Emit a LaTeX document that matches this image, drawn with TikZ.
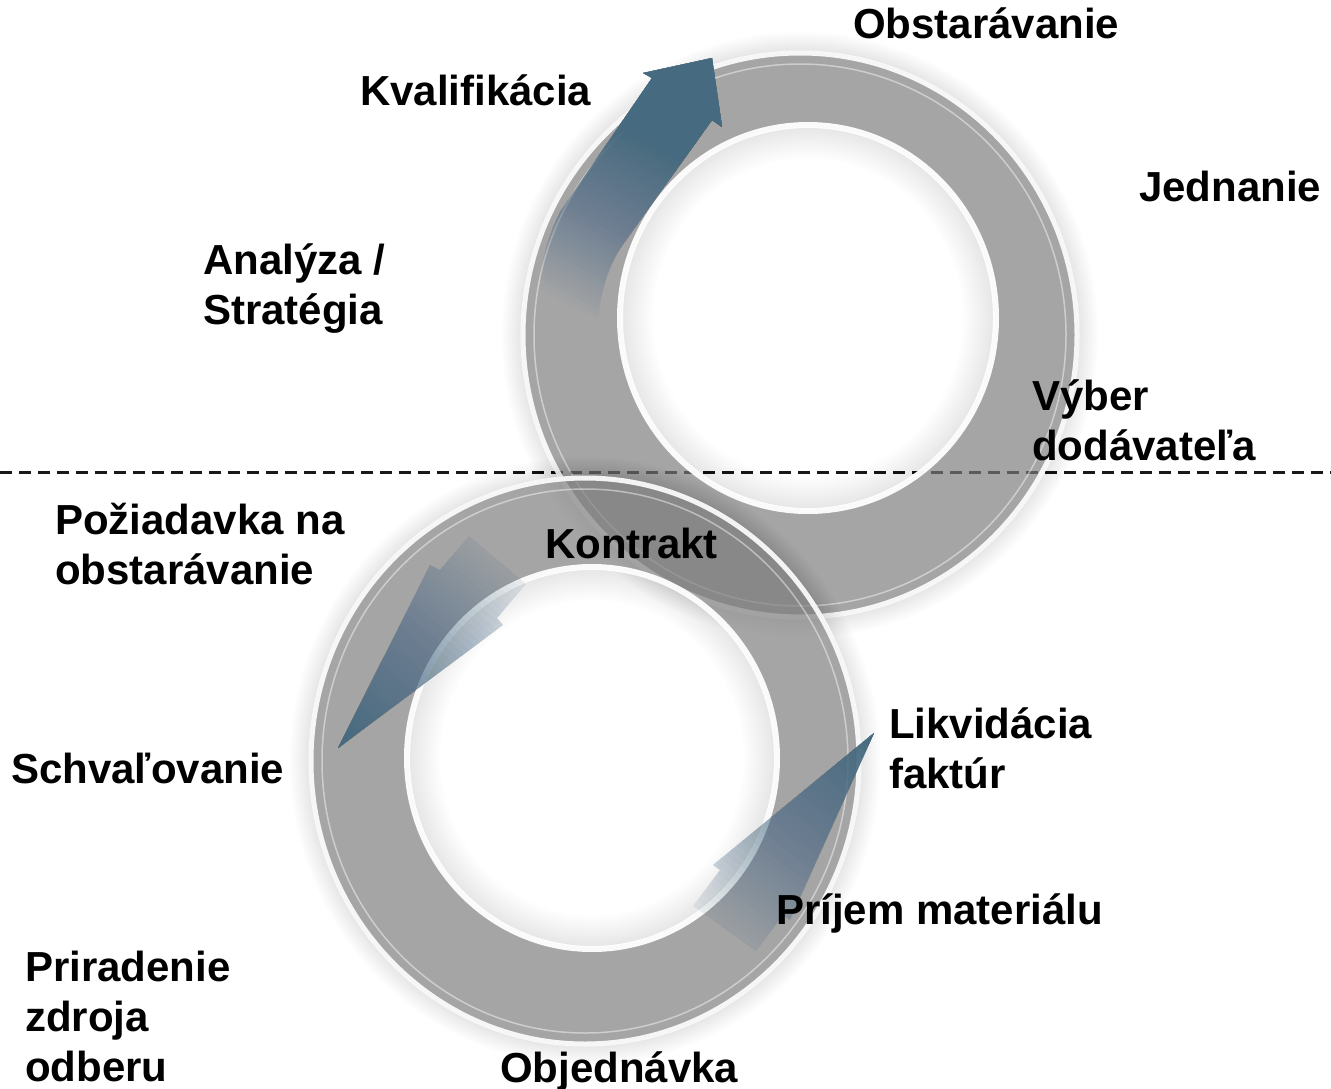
\documentclass[tikz,border=0pt]{standalone}
\usepackage{fontspec}
\setmainfont{Liberation Sans}

\definecolor{ringgray}{gray}{0.482}
\definecolor{slate}{RGB}{70,106,128}
\definecolor{dashgray}{RGB}{25,25,25}

\begin{document}
\begin{tikzpicture}[x=1pt,y=-1pt,
  lbl/.style={anchor=base west, inner sep=0pt, font=\fontsize{42}{50}\selectfont\bfseries, align=left, text=black},
  ringbody/.style={fill=ringgray, fill opacity=0.674, even odd rule},
  halo/.style={fill=black, fill opacity=0.009, even odd rule},
  outerrim/.style={draw=white, draw opacity=0.9, line width=5pt},
  innerline/.style={draw=white, draw opacity=0.45, line width=1.5pt},
  holerim/.style={draw=white, draw opacity=0.95, line width=6pt},
  dashline/.style={draw=dashgray, line width=3pt, dash pattern=on 12pt off 7pt},
  arrowlayer/.style={fill=slate, fill opacity=#1}
]
\path[use as bounding box, fill=white] (0,0) rectangle (1331,1089);

% centres
\coordinate (uc) at (800,335);
\coordinate (uh) at (808,318);
\coordinate (lc) at (585,761);
\coordinate (lh) at (592,758);
% start points of the arrow fades
\coordinate (ua) at (569,305);
\coordinate (la) at (510.4,544.7);
\coordinate (ra) at (712.3,944.4);

% dashed separator
\coordinate (dl) at (0,472);
\coordinate (dr) at (1331,472);
\draw[dashline] (dl) -- (dr);

% ---------- upper ring ----------
\foreach \k in {1,...,12} {
  \fill[halo] (uc) ellipse ({279+1.6*\k} and {284+1.6*\k}) (uc) ellipse (279 and 284);
  \fill[halo] (uh) ellipse (186 and 191) (uh) ellipse ({186-2.6*\k} and {191-2.6*\k});
}
\fill[ringbody] (uc) ellipse (279 and 284) (uh) ellipse (186 and 191);
\draw[outerrim] (uc) ellipse (277 and 282);
\draw[innerline] (uc) ellipse (266 and 271);
\draw[holerim] (uh) ellipse (188 and 193);

% upper arrow (fading built from stacked layers)
\foreach \n in {1,...,40} {
  \pgfmathsetmacro\st{(\n-1)/40*188.4}
  \pgfmathsetmacro\op{1/(41-\n)}
  \begin{scope}
    \clip[shift={(ua)}, rotate=61.1] (\st,-600) rectangle (1200,600);
    \fill[arrowlayer=\op] (712,58) -- (722,127) -- (712,120) -- (622,246)
      .. controls (608,266) and (601,292) .. (598,318) -- (540,292)
      .. controls (540,262) and (548,236) .. (560,212) -- (652,78) -- (643,73) -- cycle;
  \end{scope}
}

% ---------- lower ring ----------
\foreach \k in {1,...,12} {
  \fill[halo] (lc) ellipse ({276+1.6*\k} and {285+1.6*\k}) (lc) ellipse (276 and 285);
  \fill[halo] (lh) ellipse (183 and 189) (lh) ellipse ({183-2.6*\k} and {189-2.6*\k});
}
\fill[ringbody] (lc) ellipse (276 and 285) (lh) ellipse (183 and 189);
\draw[outerrim] (lc) ellipse (274 and 283);
\draw[innerline] (lc) ellipse (263 and 272);
\draw[holerim] (lh) ellipse (185 and 191);

% lower-left arrow
\foreach \n in {1,...,40} {
  \pgfmathsetmacro\st{(\n-1)/40*266.6}
  \pgfmathsetmacro\op{1/(41-\n)}
  \begin{scope}
    \clip[shift={(la)}, rotate=229.7] (\st,-600) rectangle (1200,600);
    \fill[arrowlayer=\op] (338,748) -- (430,565) -- (440,570) -- (469,536)
      -- (526,584) -- (497,618) -- (503,625) -- cycle;
  \end{scope}
}

% lower-right arrow
\foreach \n in {1,...,40} {
  \pgfmathsetmacro\st{(\n-1)/40*266.2}
  \pgfmathsetmacro\op{1/(41-\n)}
  \begin{scope}
    \clip[shift={(ra)}, rotate=52.6] (\st,-600) rectangle (1200,600);
    \fill[arrowlayer=\op] (874,733) -- (790,920) -- (783,915) -- (756,951)
      -- (693,906) -- (720,870) -- (713,865) -- cycle;
  \end{scope}
}

% ---------- labels ----------
\node[lbl] (obst)  at (853,39)   {Obstarávanie};
\node[lbl] (kval)  at (360,106)  {Kvalifikácia};
\node[lbl] (jedn)  at (1139,201) {Jednanie};
\node[lbl] (anal)  at (203,324)  {Analýza /\\Stratégia};
\node[lbl] (vyber) at (1032,460) {Výber\\dodávateľa};
\node[lbl] (poz)   at (55,584)   {Požiadavka na\\obstarávanie};
\node[lbl] (kontr) at (545,558)  {Kontrakt};
\node[lbl] (likv)  at (889,788)  {Likvidácia\\faktúr};
\node[lbl] (schv)  at (11,783)   {Schvaľovanie};
\node[lbl] (prij)  at (776,924)  {Príjem materiálu};
\node[lbl] (prir)  at (25,1081)  {Priradenie\\zdroja\\odberu};
\node[lbl] (obj)   at (500,1082) {Objednávka};
\end{tikzpicture}
\end{document}
